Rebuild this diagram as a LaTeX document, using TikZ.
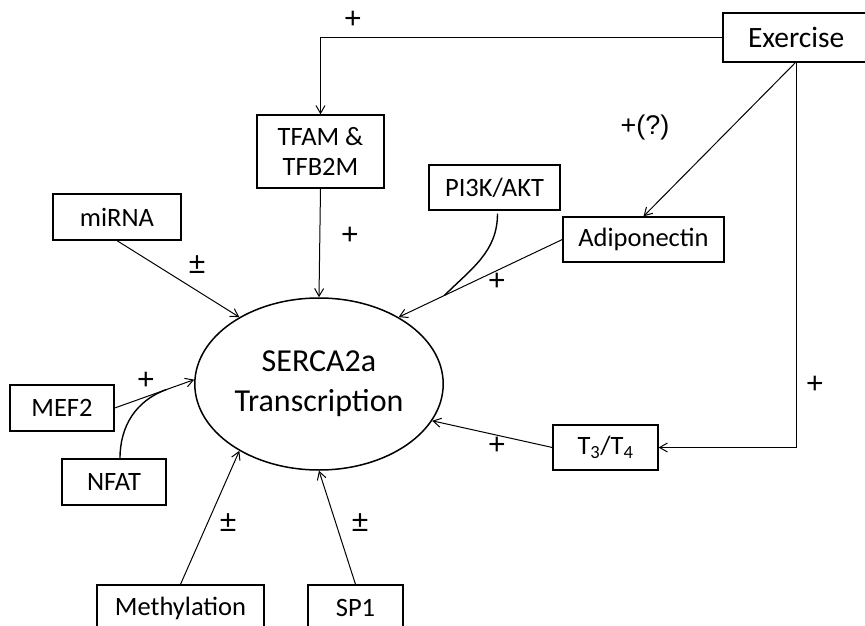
\documentclass[tikz,border=0pt]{standalone}
\usepackage{fontspec}
\setmainfont{Carlito}
\newfontfamily\signfont{Liberation Sans}
\usetikzlibrary{shapes.geometric,arrows.meta,calc}

\begin{document}
\begin{tikzpicture}[x=1pt,y=-1pt,>={Straight Barb[angle=60:9pt]},thin,
  line width=1pt,
  box node/.style={rectangle,draw,line width=1.3pt,inner sep=0pt,font=\fontsize{26.5}{30}\selectfont,align=center},
  sign node/.style={inner sep=0pt,font=\signfont\fontsize{30}{32}\selectfont}]
  \useasboundingbox (0,0) rectangle (865,626);
  \clip (0,0) rectangle (865,626);

  \node[box node,line width=2.6pt,minimum height=49pt,text width=200pt,align=left,font=\fontsize{29.5}{32}\selectfont] (ex) at (823,37.5) {\hspace*{25pt}Exercise};
  \node[box node,minimum width=127pt,minimum height=73pt] (tfam) at (320.5,151.5) {TFAM \&\\TFB2M};
  \node[box node,minimum width=131pt,minimum height=45pt] (pik) at (494.5,187.5) {PI3K/AKT};
  \node[box node,minimum width=161pt,minimum height=45pt] (adipo) at (643.5,239.5) {Adiponectin};
  \node[box node,minimum width=128pt,minimum height=46pt] (mirna) at (117,217) {miRNA};
  \node[box node,minimum width=104pt,minimum height=46pt] (mef) at (62,408) {MEF2};
  \node[box node,minimum width=104pt,minimum height=46pt] (nfat) at (114,482) {NFAT};
  \node[box node,minimum width=167pt,minimum height=46pt] (meth) at (180.5,608) {Methylation};
  \node[box node,minimum width=95pt,minimum height=46pt] (sp) at (355.5,608) {SP1};
  \node[box node,minimum width=105pt,minimum height=45pt] (thy) at (605.5,447.5) {T\textsubscript{3}/T\textsubscript{4}};
  \node[ellipse,draw,line width=1.5pt,minimum width=230pt,minimum height=172pt,align=center,font=\fontsize{32}{40}\selectfont] (serca) at (319,384) {SERCA2a\\Transcription};

  \coordinate (exfoot) at (796,62);
  \coordinate (pjoin) at ($(adipo.west)!0.72!(serca.40)$);
  \coordinate (njoin) at ($(mef.east)!0.65!(serca.178)$);

  \draw[->] (ex.west) -| (tfam.north);
  \draw[->] (exfoot) |- (thy.east);
  \path[->]
    (exfoot) edge (adipo.north)
    (tfam.south) edge (serca.north)
    (mirna.south) edge (serca.140)
    (adipo.west) edge (serca.40)
    (mef.east) edge (serca.178)
    (meth.north) edge (serca.220)
    (sp.north) edge (serca.270)
    (thy.west) edge (serca.-18);
  \draw[line width=1.4pt] ($(pik.south)+(3,3)$) to[out=-90,in=45] (pjoin);
  \draw[line width=1.4pt] ($(nfat.north)+(6,0)$) to[out=90,in=200] (njoin);

  \node[sign node] (s1) at (353,20) {+};
  \node[sign node,font=\signfont\fontsize{27}{30}\selectfont] (s2) at (645,128) {+(?)};
  \node[sign node] (s3) at (350,236) {+};
  \node[sign node] (s4) at (197,265) {±};
  \node[sign node] (s5) at (497,282) {+};
  \node[sign node] (s6) at (146,381) {+};
  \node[sign node] (s7) at (815,385) {+};
  \node[sign node] (s8) at (497,446) {+};
  \node[sign node] (s9) at (228,523) {±};
  \node[sign node] (s10) at (360,523) {±};
\end{tikzpicture}
\end{document}
